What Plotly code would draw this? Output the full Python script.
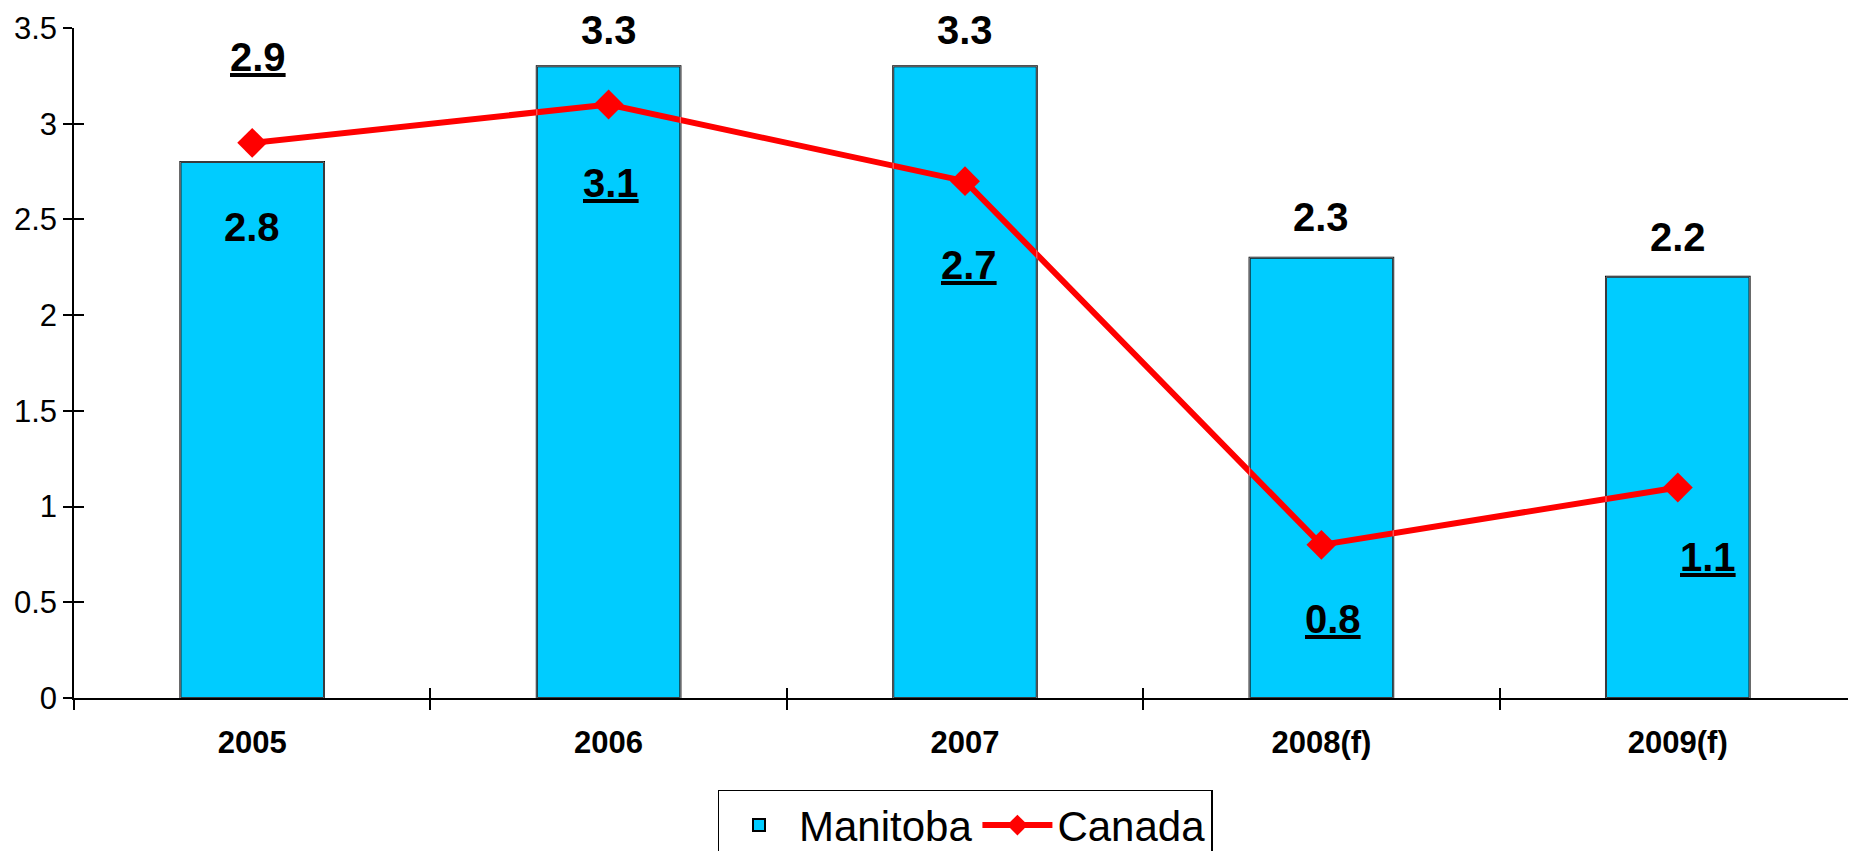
import plotly.graph_objects as go

categories = ["2005", "2006", "2007", "2008(f)", "2009(f)"]
manitoba = [2.8, 3.3, 3.3, 2.3, 2.2]
canada = [2.9, 3.1, 2.7, 0.8, 1.1]

# label offsets (pixels) – styling only
manitoba_label_dy = [-65, 36, 36, 41, 40]
canada_label_dy = [86, -78, -84, -74, -70]
canada_label_dx = [6, 2, 4, 12, 30]

FONT = "Liberation Sans, Arial, sans-serif"

fig = go.Figure()
fig.add_trace(go.Bar(
    x=categories, y=manitoba, name="Manitoba",
    marker=dict(color="#00CCFF", line=dict(color="black", width=2)),
    hoverinfo="skip",
))
fig.add_trace(go.Scatter(
    x=categories, y=canada, name="Canada", mode="lines+markers",
    line=dict(color="#FF0000", width=6),
    marker=dict(symbol="diamond", size=23, color="#FF0000"),
    hoverinfo="skip",
))
# invisible helper trace for the inner half of the crossing ticks
fig.add_trace(go.Bar(
    x=categories, y=manitoba, xaxis="x2", yaxis="y2",
    marker=dict(color="rgba(0,0,0,0)"), showlegend=False, hoverinfo="skip",
))

# annotations positioned by category index on the category axis
for i, (v, dy) in enumerate(zip(manitoba, manitoba_label_dy)):
    fig.add_annotation(x=i, y=v, xref="x", yref="y", text=f"<b>{v}</b>", showarrow=False,
                       xanchor="center", yanchor="middle", yshift=dy,
                       font=dict(family=FONT, size=40, color="black"))
for i, (v, dy, dx) in enumerate(zip(canada, canada_label_dy, canada_label_dx)):
    fig.add_annotation(x=i, y=v, xref="x", yref="y", text=f"<b><u>{v}</u></b>", showarrow=False,
                       xanchor="center", yanchor="middle", yshift=dy, xshift=dx,
                       font=dict(family=FONT, size=40, color="black"))

# the page body has an 8px margin, so the figure is sized to fit the window
fig.update_layout(
    width=1848, height=843,
    margin=dict(l=66, r=0, t=20, b=153, autoexpand=False),
    paper_bgcolor="white", plot_bgcolor="white",
    bargap=0.597,
    font=dict(family=FONT, color="black"),
    xaxis=dict(
        type="category", categoryorder="array", categoryarray=categories,
        range=[-0.5, 4.5], automargin=False,
        showline=True, linecolor="black", linewidth=1.5,
        ticks="outside", tickson="boundaries", ticklen=10, tickwidth=1.5, tickcolor="black",
        tickfont=dict(family=FONT, size=31, color="black", weight="bold"),
        ticklabelstandoff=16,
        showgrid=False, zeroline=False,
    ),
    yaxis=dict(
        range=[0, 3.5], tickvals=[0, 0.5, 1, 1.5, 2, 2.5, 3, 3.5], automargin=False,
        showline=True, linecolor="black", linewidth=1.5,
        ticks="outside", ticklen=9, tickwidth=1.5, tickcolor="black",
        tickfont=dict(family=FONT, size=31, color="black"),
        ticklabelstandoff=0,
        showgrid=False, zeroline=False,
    ),
    xaxis2=dict(
        overlaying="x", type="category", categoryorder="array", categoryarray=categories,
        range=[-0.5, 4.5], showline=False, showticklabels=False, automargin=False,
        ticks="inside", tickson="boundaries", ticklen=10, tickwidth=1.5, tickcolor="black",
        showgrid=False, zeroline=False,
    ),
    yaxis2=dict(
        overlaying="y", side="left", range=[0, 3.5], automargin=False,
        tickvals=[0, 0.5, 1, 1.5, 2, 2.5, 3, 3.5],
        showline=False, showticklabels=False,
        ticks="inside", ticklen=10, tickwidth=1.5, tickcolor="black",
        showgrid=False, zeroline=False,
    ),
    legend=dict(
        orientation="h", x=0.5, xanchor="center", y=-0.137, yanchor="top",
        bordercolor="black", borderwidth=1.5,
        font=dict(family=FONT, size=42, color="black"),
        itemwidth=70, traceorder="normal",
    ),
    showlegend=True,
)

fig.write_html("out.html")
